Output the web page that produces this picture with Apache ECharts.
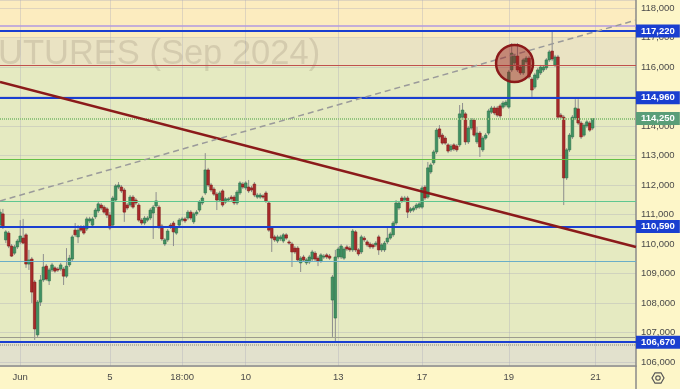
<!DOCTYPE html>
<html><head><meta charset="utf-8">
<script src="https://cdn.jsdelivr.net/npm/echarts@6/dist/echarts.min.js"></script>
<style>html,body{margin:0;padding:0;background:#fdf6c8}#c{width:680px;height:389px}</style>
</head><body><div id="c"></div><script>
// Hourly candles (RTS futures Sep 2024)
const opens=[110640,111020,110140,110370,109930,109690,109900,110070,110200,110310,109320,109490,108710,106920,108030,108780,109250,108750,109120,109190,109150,109150,109150,108910,109290,109490,110470,110240,110580,110580,110510,110780,110640,110920,111120,111320,111250,111190,110980,110640,111490,111930,111930,111830,111320,111320,111590,111490,111320,110810,110710,110810,110880,111050,111290,111250,110610,110000,110140,110640,110710,110370,110640,110810,110850,110880,111080,110750,111020,111150,111390,111730,112510,112000,111860,111690,111490,111800,111420,111490,111590,111590,111390,111730,112030,111900,111930,111900,112030,111590,111590,111630,111730,111390,110540,110240,110100,110170,110100,110310,110070,110000,109860,109860,109360,109560,109360,109390,109490,109690,109520,109420,109560,109630,109590,108100,107490,109560,109560,109520,109900,109860,109800,110410,109800,109730,110200,110070,110000,109970,109970,110240,109800,109800,110070,110200,110310,110710,111220,111560,111490,111560,111120,111150,111220,111250,111250,111930,111590,112440,112750,113120,113900,113690,113590,113360,113190,113360,113320,113360,114300,114410,113460,113930,114200,113460,113760,113190,113590,113760,114470,114610,114610,114680,114640,114710,114640,115900,116140,116370,116000,115800,116170,116300,115590,115320,115630,115800,115900,115970,116240,116540,116070,116340,114370,114300,112240,113190,113630,114270,114580,114100,113690,114000,114100,113930];
const closes=[111080,110580,110410,109930,109590,109900,110100,110270,110030,109320,109460,108370,107120,108030,108780,109220,108810,109120,109290,109080,109120,109290,108910,109250,109520,110240,110310,110470,110470,110370,110850,110850,110850,111150,111360,111220,111080,110980,110540,111560,111970,112000,111800,111080,111220,111590,111250,111390,110810,110710,110880,110880,111150,111250,111460,110580,110170,110140,110440,110580,110410,110540,110810,110850,110780,111080,110880,111020,111080,111420,111560,112510,112000,111830,111690,111490,111730,111320,111530,111530,111530,111390,111760,112070,111930,112070,111800,111830,111660,111660,111660,111590,111460,110470,110200,110140,110240,110240,110310,110200,110030,109730,109730,109460,109520,109460,109460,109560,109730,109490,109420,109630,109590,109560,109520,108880,109560,109830,109930,109830,109830,109800,110440,109800,109660,110240,110140,109970,109900,109900,110030,109800,109970,110030,110200,110340,110710,111390,111390,111460,111560,111080,111190,111220,111320,111360,111900,111560,112580,112680,113120,113860,113630,113420,113420,113150,113320,113220,113190,114410,114540,113460,113930,114200,113690,113760,113290,113590,113690,114510,114610,114440,114370,114340,114780,114810,115830,116470,116370,115900,115800,116240,116300,115660,115220,115730,115900,116000,116000,116240,116510,116270,116340,114300,114300,112240,113190,113690,114300,114610,114100,113630,114030,114140,113860,114250];
const lows=[110580,110510,110030,109860,109560,109630,109830,110000,110000,109190,109120,108000,106750,106850,107900,108710,108750,108610,109050,109020,109050,109080,108610,108850,109220,109420,110240,110030,110410,110310,110440,110710,110580,110850,111050,111150,111020,110880,110470,110540,111420,111860,111730,110750,111150,111250,111190,111320,110750,110640,110640,110750,110810,110170,111220,110510,110100,109930,110070,110510,109930,110310,110580,110750,110710,110810,110810,110680,110950,111080,111320,111660,111930,111760,111630,111150,111420,111250,111360,111420,111460,111320,111320,111660,111860,111830,111730,111760,111590,111530,111530,111530,111390,110410,109730,110070,110030,110100,110030,110140,109970,109220,109660,109390,109050,109390,109290,109320,109420,109420,109250,109360,109490,109490,109460,106850,106670,109490,109490,109460,109760,109730,109730,109730,109590,109660,110070,109900,109830,109830,109900,109630,109730,109730,110000,110140,110240,110640,111150,111390,111420,110880,111050,111080,111150,111190,111190,111490,111530,112370,112680,113050,113560,113360,113360,113080,113120,113150,113120,113290,114240,113360,113390,113860,113630,113390,112950,113120,113530,113690,114410,114370,114300,114270,114580,114640,114580,115830,116070,115830,115730,115730,116100,115590,114950,115250,115560,115730,115830,115900,116170,116200,116000,114240,114240,111320,112170,113120,113560,114200,114030,113560,113630,113930,113800,113860];
const highs=[111190,111190,110470,110440,110000,109970,110170,110810,110850,110370,109800,109560,108780,108100,108950,109660,109320,109190,109360,109250,109220,109360,109220,109860,109630,110310,110710,110640,110640,110640,110920,110920,110920,111220,111420,111390,111320,111250,111080,111630,112030,112100,112000,111900,111390,111660,111660,111560,111390,110880,110950,110950,111220,111320,111760,111320,110680,110200,110510,110710,110780,110610,110880,110920,110920,111150,111150,111080,111150,111490,111630,113080,112580,112070,111930,111760,111800,111860,111590,111590,111660,111660,111830,112130,112100,112130,112170,111970,112100,111730,111730,111690,111800,111460,110610,110310,110310,110310,110370,110370,110140,110070,109930,109930,109590,109630,109520,109630,109800,109760,109590,109690,109660,109690,109660,108950,109800,109900,110000,109900,109970,109930,110510,110470,109860,110310,110270,110140,110070,110030,110100,110310,110030,110100,110540,110410,110780,111490,111460,111630,111630,111630,111250,111290,111390,111420,111970,112000,112780,112750,113190,113930,114030,113760,113660,113420,113390,113420,113390,114710,114780,114470,114000,114270,114270,113970,113830,113660,113760,114580,114680,114680,114680,114750,114850,114880,115900,116810,116440,116810,116070,116300,116370,116370,115660,115800,115970,116070,116070,116300,116580,117220,116410,116410,114440,114370,113250,113760,114370,114910,114910,114170,114100,114200,114170,114270];

const slotCount = 221; // bar slots incl. empty right margin
const categories = Array.from({length: slotCount}, (_, i) => String(i));
const tickLabels = {7:'Jun', 38:'5', 63:'18:00', 85:'10', 117:'13', 146:'17', 176:'19', 206:'21'};

// horizontal levels
const levelBlue = [117220, 114960, 110590, 106670];
const lastPrice = 114250;
const levelPurple = 117390, levelRed = 116070, levelGreen = 112880, levelTeal = 111460, levelCyan = 109420, levelGray = 106850, levelDotGray = 106590;
// trend lines [slot, price]
const trendDown = [[0, 115490], [220, 109900]];
const trendUp = [[0, 111460], [220, 117590]];
const circleAt = [178, 116120];
// background zones
const zoneTop = 116990, zoneMid = 116070, zoneLow = 106670;
const yMin = 105864, yMax = 118271;

const candleData = opens.map((o, i) => [i, o, closes[i], lows[i], highs[i]]);
const fmt = v => Math.round(v).toLocaleString('en-US');
const box = bg => ({show: true, position: 'end', distance: 0, formatter: p => fmt(p.value),
  color: '#fff', backgroundColor: bg, fontSize: 9.5, fontWeight: 'bold', fontFamily: 'Liberation Sans', padding: [2, 5, 1, 5]});

const chart = echarts.init(document.getElementById('c'), null, {renderer: 'canvas'});
chart.setOption({
  animation: false,
  backgroundColor: '#fdf6c8',
  textStyle: {fontFamily: 'Liberation Sans'},
  grid: {left: 0, right: 44, top: 0, bottom: 23, containLabel: false},
  xAxis: {type: 'category', data: categories, boundaryGap: false,
    axisLine: {show: true, lineStyle: {color: '#8a8a8a', width: 1.5}}, axisTick: {show: false},
    axisLabel: {interval: (i) => (i in tickLabels), formatter: (v, i) => tickLabels[i] || '', color: '#4a4a4a', fontSize: 9.5, margin: 6},
    splitLine: {show: true, interval: (i) => (i in tickLabels), lineStyle: {color: 'rgba(170,170,185,0.35)', width: 1}}},
  yAxis: {type: 'value', position: 'right', min: yMin, max: yMax, splitNumber: 12, minInterval: 1000, maxInterval: 1000,
    axisLine: {show: true, lineStyle: {color: '#8a8a8a', width: 1.5}}, axisTick: {show: false},
    axisLabel: {color: '#4a4a4a', fontSize: 9.5, margin: 5, showMinLabel: false, showMaxLabel: false, formatter: v => fmt(v)},
    splitLine: {show: true, lineStyle: {color: 'rgba(170,170,185,0.35)', width: 1}}},
  graphic: [
    {type: 'text', x: -2, y: 54, z: 1, silent: true, style: {text: 'UTURES (Sep 2024)', font: '34.5px "Liberation Sans"', fill: 'rgba(125,112,90,0.2)', verticalAlign: 'middle'}},
    {type: 'line', z: 10, shape: {x1: 636, y1: 366, x2: 636, y2: 389}, style: {stroke: '#8a8a8a', lineWidth: 1.5}},
    {type: 'group', x: 658, y: 378, z: 10, children: [
      {type: 'polygon', shape: {points: [[6,0],[3,5.2],[-3,5.2],[-6,0],[-3,-5.2],[3,-5.2]]}, style: {fill: 'none', stroke: '#555', lineWidth: 1.2}},
      {type: 'circle', shape: {cx: 0, cy: 0, r: 2.2}, style: {fill: 'none', stroke: '#555', lineWidth: 1.2}}
    ]}
  ],
  series: [
    {type: 'line', data: [], silent: true,
      markArea: {silent: true, z: -5, data: [
        [{yAxis: zoneTop, itemStyle: {color: '#fcecbf'}}, {yAxis: yMax}],
        [{yAxis: zoneMid, itemStyle: {color: '#eae3c3'}}, {yAxis: zoneTop}],
        [{yAxis: zoneLow, itemStyle: {color: '#e5eac1'}}, {yAxis: zoneMid}],
        [{yAxis: yMin, itemStyle: {color: '#e2e1cd'}}, {yAxis: zoneLow}]
      ]}},
    {type: 'custom', data: candleData, clip: true, z: 3, encode: {x: 0, y: [1, 2, 3, 4]},
      renderItem: (params, api) => {
        const i = api.value(0), o = api.value(1), c = api.value(2), l = api.value(3), h = api.value(4);
        const pO = api.coord([i, o]), pC = api.coord([i, c]), pL = api.coord([i, l]), pH = api.coord([i, h]);
        const x = pO[0], w = 2.6, up = c >= o;
        const top = Math.min(pO[1], pC[1]), ht = Math.max(1, Math.abs(pO[1] - pC[1]));
        return {type: 'group', children: [
          {type: 'line', shape: {x1: x, y1: pH[1], x2: x, y2: pL[1]}, style: {stroke: '#8e8e8e', lineWidth: 1}},
          {type: 'rect', shape: {x: x - w / 2, y: top, width: w, height: ht},
            style: {fill: up ? '#3f9163' : '#a82a2a', stroke: up ? '#2e7049' : '#801c1c', lineWidth: 0.6}}
        ]};
      }},
    {type: 'line', data: [], silent: true,
      markLine: {silent: true, symbol: 'none', label: {show: false}, z: 5, data: [
        {yAxis: levelPurple, lineStyle: {color: '#b29ae0', width: 1.5, type: 'solid'}},
        {yAxis: levelRed, lineStyle: {color: '#c0504d', width: 1, type: 'solid'}},
        {yAxis: levelGreen, lineStyle: {color: '#66c046', width: 1.2, type: 'solid'}},
        {yAxis: levelTeal, lineStyle: {color: '#5fc791', width: 1.2, type: 'solid'}},
        {yAxis: levelCyan, lineStyle: {color: '#6aaec8', width: 1, type: 'solid'}},
        {yAxis: levelGray, lineStyle: {color: '#9c9c8e', width: 1.2, type: 'solid'}},
        {yAxis: levelDotGray, lineStyle: {color: '#a8a898', width: 1.5, type: [1, 1]}},
        {yAxis: lastPrice, lineStyle: {color: '#92c47e', width: 2, type: [1, 1]}, label: box('#5a9e78')},
        ...levelBlue.map(v => ({yAxis: v, lineStyle: {color: '#1a3fd0', width: 2, type: 'solid'}, label: box('#1a3fd0')})),
        [{coord: trendDown[0], lineStyle: {color: '#8b1a1a', width: 2.5, type: 'solid'}}, {coord: trendDown[1]}],
        [{coord: trendUp[0], lineStyle: {color: '#9a9a9a', width: 1.5, type: [6, 4]}}, {coord: trendUp[1]}]
      ]},
      markPoint: {silent: true, z: 6, symbol: 'circle', symbolSize: 37, label: {show: false},
        itemStyle: {color: 'rgba(150,25,25,0.45)', borderColor: '#8b1a1a', borderWidth: 2.5},
        data: [{coord: circleAt}]}}
  ]
});
</script></body></html>
